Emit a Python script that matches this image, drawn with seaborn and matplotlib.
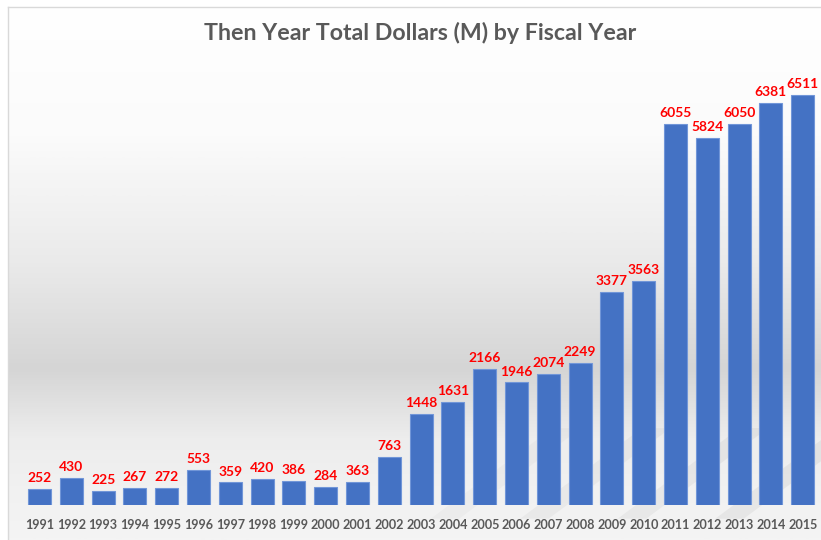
import numpy as np
import pandas as pd
import matplotlib
matplotlib.use("Agg")
import matplotlib.pyplot as plt
import seaborn as sns
from matplotlib.colors import LinearSegmentedColormap

# Fiscal years and then-year totals in millions of dollars
years = ["1991", "1992", "1993", "1994", "1995", "1996", "1997", "1998", "1999",
         "2000", "2001", "2002", "2003", "2004", "2005", "2006", "2007", "2008",
         "2009", "2010", "2011", "2012", "2013", "2014", "2015"]
totals = [252, 430, 225, 267, 272, 553, 359, 420, 386, 284, 363, 763, 1448,
          1631, 2166, 1946, 2074, 2249, 3377, 3563, 6055, 5824, 6050, 6381, 6511]

title = "Then Year Total Dollars (M) by Fiscal Year"

df = pd.DataFrame({"year": years, "total": totals})

sns.set_theme(style="white")
plt.rcParams["font.family"] = ["Lato", "DejaVu Sans"]

W, H = 821, 540
fig = plt.figure(figsize=(W / 100, H / 100), dpi=100)
fig.patch.set_facecolor("white")

# Chart area background: soft vertical grey gradient inside a thin frame
bg = fig.add_axes([8 / W, 0, (W - 8) / W, (H - 7) / H])
bg.set_xlim(0, 1)
bg.set_ylim(0, 1)
stops = [(0.0, "#f4f4f4"), (0.10, "#f1f1f1"), (0.19, "#ededed"),
         (0.32, "#d5d5d5"), (0.52, "#eaeaea"), (0.76, "#fbfbfb"), (1.0, "#ffffff")]
cmap = LinearSegmentedColormap.from_list("bgfade", stops)
grad = np.linspace(0, 1, 512).reshape(-1, 1)
bg.imshow(grad, aspect="auto", cmap=cmap, origin="lower",
          extent=[0, 1, 0, 1], zorder=0)
# faint diagonal reflections low on the right
for x0, a in [(0.52, 0.07), (0.63, 0.10), (0.75, 0.12), (0.87, 0.14)]:
    bg.fill([x0, x0 + 0.035, x0 + 0.185, x0 + 0.15],
            [0.04, 0.04, 0.21, 0.21], color="#a0a0a0", alpha=a, lw=0, zorder=1)
for s in ["top", "left"]:
    bg.spines[s].set_visible(True)
    bg.spines[s].set_color("#d9d9d9")
    bg.spines[s].set_linewidth(1.0)
for s in ["bottom", "right"]:
    bg.spines[s].set_visible(False)
bg.set_xticks([])
bg.set_yticks([])

# Bar axes
left_px, right_px = 23.6, 818.6
bottom_px, top_px = 35, 476
ax = fig.add_axes([left_px / W, bottom_px / H,
                   (right_px - left_px) / W, (top_px - bottom_px) / H])
ax.patch.set_alpha(0)

sns.barplot(data=df, x="year", y="total", color="#4472C4", saturation=1,
            width=0.72, edgecolor="#7196d8", linewidth=0.8, ax=ax)
ax.set_xlim(-0.5, len(years) - 0.5)
ax.set_ylim(0, 7000)

ax.bar_label(ax.containers[0], labels=[str(v) for v in totals], padding=3.5,
             color="#ff0000", fontsize=10, fontweight="bold")

ax.set_xlabel("")
ax.set_ylabel("")
ax.set_yticks([])
ax.tick_params(axis="x", length=0, pad=10, labelsize=9.1, labelcolor="#595959")
for lbl in ax.get_xticklabels():
    lbl.set_fontweight("bold")
sns.despine(ax=ax, left=True, bottom=True)

fig.text(420 / W, 1 - 33 / H, title, ha="center", va="center",
         fontsize=16.7, fontweight="bold", color="#595959")

fig.savefig("out.png", dpi=100)
